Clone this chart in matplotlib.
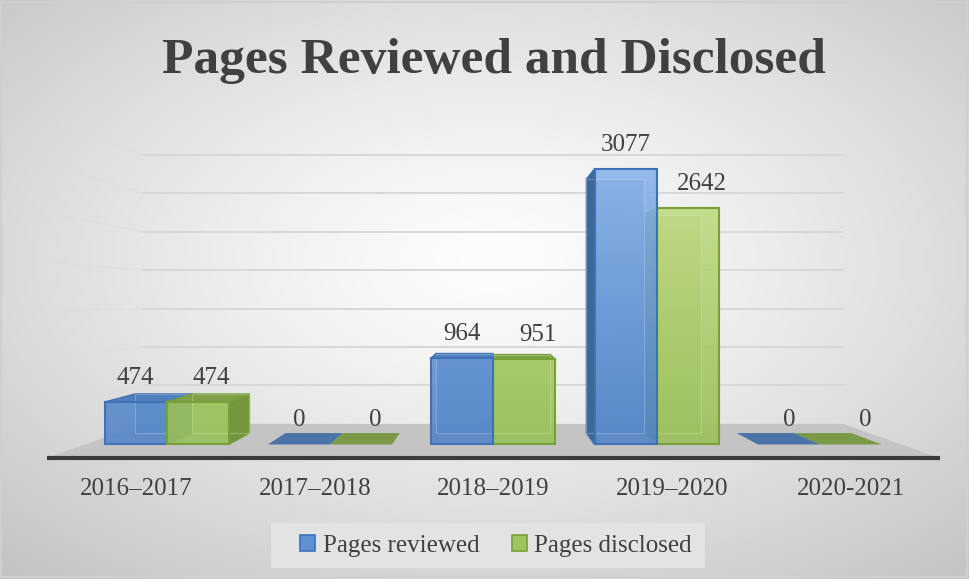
import numpy as np
import matplotlib
matplotlib.use("Agg")
import matplotlib.pyplot as plt
from matplotlib.patches import Polygon, Rectangle, Patch
from matplotlib.colors import to_rgb

# ---------------- data ----------------
categories = ['2016–2017', '2017–2018', '2018–2019', '2019–2020', '2020-2021']
pages_reviewed = [474, 0, 964, 3077, 0]
pages_disclosed = [474, 0, 951, 2642, 0]
series_names = ['Pages reviewed', 'Pages disclosed']
y_max = 3500
y_step = 500

# ---------------- style / layout ----------------
W, H = 969, 579
TEXT = '#404040'
FONT = 'Liberation Serif'
plt.rcParams['font.family'] = [FONT, 'DejaVu Serif']

# pseudo-3D projection parameters (pixel space)
VX, VY = 491.0, 300.0          # vanishing point
FLOOR_X0, FLOOR_X1 = 47.0, 940.0
FLOOR_Y = 458.0
K = 1 / 0.784 - 1              # depth scale factor
PPU = 343.0 / y_max            # pixels per unit at the front plane
ncat = len(categories)
CW = (FLOOR_X1 - FLOOR_X0) / ncat
BAR_W = 0.38                   # fraction of category
Z0, Z1 = 0.34, 0.68            # bar depth span


def proj(p, v, z):
    """category position p (0..ncat), value v, depth z (0 front .. 1 back)"""
    xw = FLOOR_X0 + p * CW
    yw = FLOOR_Y - v * PPU
    s = 1.0 / (1.0 + K * z)
    return (VX + (xw - VX) * s, VY + (yw - VY) * s)


fig = plt.figure(figsize=(W / 100, H / 100), dpi=100)
ax = fig.add_axes([0, 0, 1, 1])
ax.set_xlim(0, W)
ax.set_ylim(H, 0)
ax.axis('off')

# background radial gradient
yy, xx = np.mgrid[0:H, 0:W]
r = np.sqrt(((xx - 490) / 560.0) ** 2 + ((yy - 260) / 330.0) ** 2)
g = np.clip(253 - 42 * r ** 1.3, 0, 255) / 255.0
ax.imshow(np.dstack([g, g, g]), extent=(0, W, H, 0), zorder=0, aspect='auto')
ax.add_patch(Rectangle((1, 2), W - 3, H - 4, fill=False, ec='#cfcfcf', lw=1.5, zorder=1))

# floor
floor = [proj(0, 0, 0), proj(ncat, 0, 0), proj(ncat, 0, 1), proj(0, 0, 1)]
ax.add_patch(Polygon(floor, closed=True, fc='#c4c4c4', ec='none', zorder=2))

# gridlines on back wall and left side wall
for v in np.arange(y_step, y_max + 1, y_step):
    a = proj(0, v, 1)
    b = proj(ncat, v, 1)
    c = proj(0, v, 0.05)
    ax.plot([a[0], b[0]], [a[1], b[1]], color='#d6d6d6', lw=1.3, zorder=2)
    ax.plot([c[0], a[0]], [c[1], a[1]], color='#dddddd', lw=1.2, zorder=2, alpha=0.6)

# front axis line
p0, p1 = proj(0, 0, 0), proj(ncat, 0, 0)
ax.plot([p0[0], p1[0]], [p0[1], p1[1]], color='#3a3a3a', lw=3, zorder=3, solid_capstyle='butt')

styles = [
    dict(lo='#5486c8', hi='#92bcef', side='#3e6797', top='#4f7fbd', edge='#3f72b5', flat='#4a73a8'),
    dict(lo='#9bc15a', hi='#cde594', side='#74953c', top='#809f48', edge='#77a038', flat='#7b9a48'),
]

bars = []
for si, vals in enumerate([pages_reviewed, pages_disclosed]):
    for ci, v in enumerate(vals):
        x0 = ci + 0.5 - BAR_W + si * BAR_W
        x1 = x0 + BAR_W
        bars.append((si, ci, v, x0, x1))


def dist(b):
    xc = proj((b[3] + b[4]) / 2, 0, Z0)[0]
    return -abs(xc - VX)


def gradient_face(poly_pts, v, st, z):
    (xa, yb), (xb, _), _, (_, yt) = poly_pts
    lo, hi = np.array(to_rgb(st['lo'])), np.array(to_rgb(st['hi']))
    t = np.linspace(v / y_max, 0, 64)[:, None]   # top row -> bottom row
    t = t ** 1.2
    img = lo[None, :] * (1 - t) + hi[None, :] * t
    img = np.repeat(img[:, None, :], 2, axis=1)
    im = ax.imshow(img, extent=(xa, xb, yb, yt), zorder=z, aspect='auto',
                   interpolation='bilinear', alpha=0.9)
    clip = Polygon(poly_pts, closed=True, transform=ax.transData)
    im.set_clip_path(clip)


zo = 10
for si, ci, v, x0, x1 in sorted(bars, key=dist):
    st = styles[si]
    f = [proj(x0, 0, Z0), proj(x1, 0, Z0), proj(x1, v, Z0), proj(x0, v, Z0)]
    bk = [proj(x0, 0, Z1), proj(x1, 0, Z1), proj(x1, v, Z1), proj(x0, v, Z1)]
    top = [proj(x0, v, Z0), proj(x1, v, Z0), proj(x1, v, Z1), proj(x0, v, Z1)]
    left = [proj(x0, 0, Z0), proj(x0, v, Z0), proj(x0, v, Z1), proj(x0, 0, Z1)]
    right = [proj(x1, 0, Z0), proj(x1, v, Z0), proj(x1, v, Z1), proj(x1, 0, Z1)]
    if v == 0:
        ax.add_patch(Polygon(top, closed=True, fc=st['flat'], ec='none', zorder=zo))
        zo += 1
        continue
    ax.add_patch(Polygon(bk, closed=True, fc=st['lo'], ec=st['edge'], lw=0.8, alpha=0.6, zorder=zo))
    if f[0][0] > VX:
        ax.add_patch(Polygon(left, closed=True, fc=st['side'], ec=st['edge'], lw=1, zorder=zo + 1))
    if f[1][0] < VX:
        ax.add_patch(Polygon(right, closed=True, fc=st['side'], ec=st['edge'], lw=1, zorder=zo + 1))
    if f[2][1] > VY:
        ax.add_patch(Polygon(top, closed=True, fc=st['top'], ec=st['edge'], lw=1, zorder=zo + 1))
    gradient_face(f, v, st, zo + 2)
    # faint inner (back) edges showing through the transparent front
    ax.add_patch(Polygon(bk, closed=True, fill=False, ec='white', lw=0.8, alpha=0.25, zorder=zo + 3))
    ax.add_patch(Polygon(f, closed=True, fill=False, ec=st['edge'], lw=1.5, zorder=zo + 3))
    zo += 4

# value labels
for si, vals in enumerate([pages_reviewed, pages_disclosed]):
    for ci, v in enumerate(vals):
        x0 = ci + 0.5 - BAR_W + si * BAR_W
        X, Y = proj(x0 + BAR_W / 2, v, Z0)
        ax.text(X + (14 if si == 1 else 0), Y - 24, f'{v}', ha='center', va='center',
                fontsize=18, color=TEXT, zorder=100)

# category labels
for ci, c in enumerate(categories):
    X, _ = proj(ci + 0.5, 0, 0)
    ax.text(X, 489, c, ha='center', va='center', fontsize=18, color=TEXT, zorder=100)

# title
ax.text(494, 73, 'Pages Reviewed and Disclosed', ha='center', va='baseline',
        fontsize=37, fontweight='bold', color=TEXT, zorder=100)

# legend
ax.add_patch(Rectangle((271, 523), 434, 45, fc='#e3e3e3', ec='none', zorder=50))
handles = [Patch(fc='#5f91d2', ec=styles[0]['edge'], lw=1.2),
           Patch(fc='#9fc45e', ec=styles[1]['edge'], lw=1.2)]
fig.legend(handles, series_names, loc='center', bbox_to_anchor=(496 / W, 1 - 546 / H),
           ncol=2, frameon=False, fontsize=18, labelcolor=TEXT,
           handlelength=0.6, handleheight=0.6, handletextpad=0.3, columnspacing=1.3)

fig.savefig('out.png', dpi=100)
